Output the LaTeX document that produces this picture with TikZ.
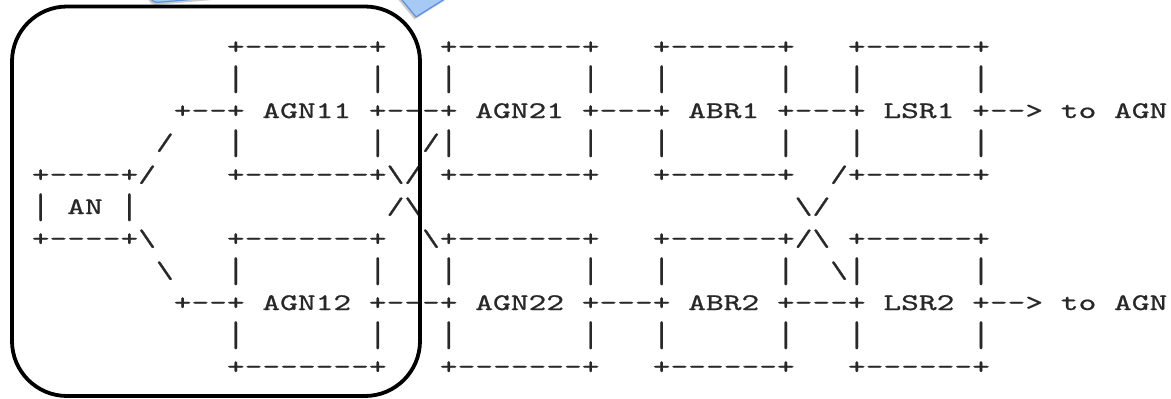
\documentclass[tikz,border=0pt]{standalone}
\usepackage{graphicx}
\definecolor{calloutfill}{RGB}{166,201,245}
\definecolor{calloutedge}{RGB}{88,146,222}
\definecolor{asciiink}{RGB}{40,40,40}
% typewriter face, slightly emboldened
\font\asciifnt="[lmmono10-regular]:embolden=0.7" at 23.8pt
% one hyphen per box, so no dash ligatures can form
\newcommand\hy{\mbox{-}}
\newcommand\bsl{\textbackslash}
% taller vertical bar
\newcommand\vb{\raisebox{-4.2pt}{\scalebox{1}[1.5]{|}}}
\ExplSyntaxOn
\NewDocumentCommand\gapn{m}{\prg_replicate:nn{#1}{\nobreakspace}}
\ExplSyntaxOff
% box borders: 7 and 6 dashes wide
\newcommand\bdA{+\hy\hy\hy\hy\hy\hy\hy+}
\newcommand\bdB{+\hy\hy\hy\hy\hy\hy+}
\newcommand\asc[1]{\scalebox{1.42}[1]{#1}}
\begin{document}
\begin{tikzpicture}[x=1pt,y=-1pt,
  asciirow/.style={anchor=base west, inner sep=0pt, outer sep=0pt, text=asciiink,
    font=\asciifnt},
  frame/.style={draw=black, line width=3.8pt, rounded corners=55pt},
  callout/.style={fill=calloutfill, draw=calloutedge, line width=1.2pt, line join=round},
  calloutshadow/.style={fill=black, opacity=0.2},
]
\useasboundingbox (0,0) rectangle (1171,399);

% ASCII rows: column 0 starts at x = 31.8, 17.74 per column, 32 per row
\node[asciirow] (row0)  at (31.8, 54)  {\asc{\gapn{11}\bdA\gapn{3}\bdA\gapn{3}\bdB\gapn{3}\bdB}};
\node[asciirow] (row1)  at (31.8, 86)  {\asc{\gapn{11}\vb\gapn{7}\vb\gapn{3}\vb\gapn{7}\vb\gapn{3}\vb\gapn{6}\vb\gapn{3}\vb\gapn{6}\vb}};
\node[asciirow] (row2)  at (31.8, 118) {\asc{\gapn{8}+\hy\hy+~AGN11~+\hy\hy\hy+~AGN21~+\hy\hy\hy+~ABR1~+\hy\hy\hy+~LSR1~+\hy\hy>~to~AGN}};
\node[asciirow] (row3)  at (31.8, 150) {\asc{\gapn{7}/\gapn{3}\vb\gapn{7}\vb\gapn{2}/\vb\gapn{7}\vb\gapn{3}\vb\gapn{6}\vb\gapn{3}\vb\gapn{6}\vb}};
\node[asciirow] (row4)  at (31.8, 182) {\asc{+\hy\hy\hy\hy+/\gapn{4}\bdA\bsl/~\bdA\gapn{3}\bdB\gapn{2}/\bdB}};
\node[asciirow] (row5)  at (31.8, 214) {\asc{\vb~AN~\vb\gapn{14}/\bsl\gapn{21}\bsl/}};
\node[asciirow] (row6)  at (31.8, 246) {\asc{+\hy\hy\hy\hy+\bsl\gapn{4}\bdA\gapn{2}\bsl\bdA\gapn{3}\bdB/\bsl~\bdB}};
\node[asciirow] (row7)  at (31.8, 278) {\asc{\gapn{7}\bsl\gapn{3}\vb\gapn{7}\vb\gapn{3}\vb\gapn{7}\vb\gapn{3}\vb\gapn{6}\vb\gapn{2}\bsl\vb\gapn{6}\vb}};
\node[asciirow] (row8)  at (31.8, 310) {\asc{\gapn{8}+\hy\hy+~AGN12~+\hy\hy\hy+~AGN22~+\hy\hy\hy+~ABR2~+\hy\hy\hy+~LSR2~+\hy\hy>~to~AGN}};
\node[asciirow] (row9)  at (31.8, 342) {\asc{\gapn{11}\vb\gapn{7}\vb\gapn{3}\vb\gapn{7}\vb\gapn{3}\vb\gapn{6}\vb\gapn{3}\vb\gapn{6}\vb}};
\node[asciirow] (row10) at (31.8, 374) {\asc{\gapn{11}\bdA\gapn{3}\bdA\gapn{3}\bdB\gapn{3}\bdB}};

% rounded frame around the access part
\draw[frame] (12,6.5) rectangle (420,396);

% tilted callout bubble, mostly above the top edge
\begin{scope}
  \clip (0,0) rectangle (1171,399);
  \fill[calloutshadow, shift={(-1.5,2.5)}]
    (144.5,-60) [rounded corners=8pt] -- (150,3) -- (387.6,-17.5) [sharp corners]
    -- (416,17) -- (484.5,-26.1) -- (700,-45) -- (700,-200) -- cycle;
  \path[callout]
    (144.5,-60) [rounded corners=8pt] -- (150,3) -- (387.6,-17.5) [sharp corners]
    -- (416,17) -- (484.5,-26.1) -- (700,-45) -- (700,-200) -- cycle;
\end{scope}
\end{tikzpicture}
\end{document}
